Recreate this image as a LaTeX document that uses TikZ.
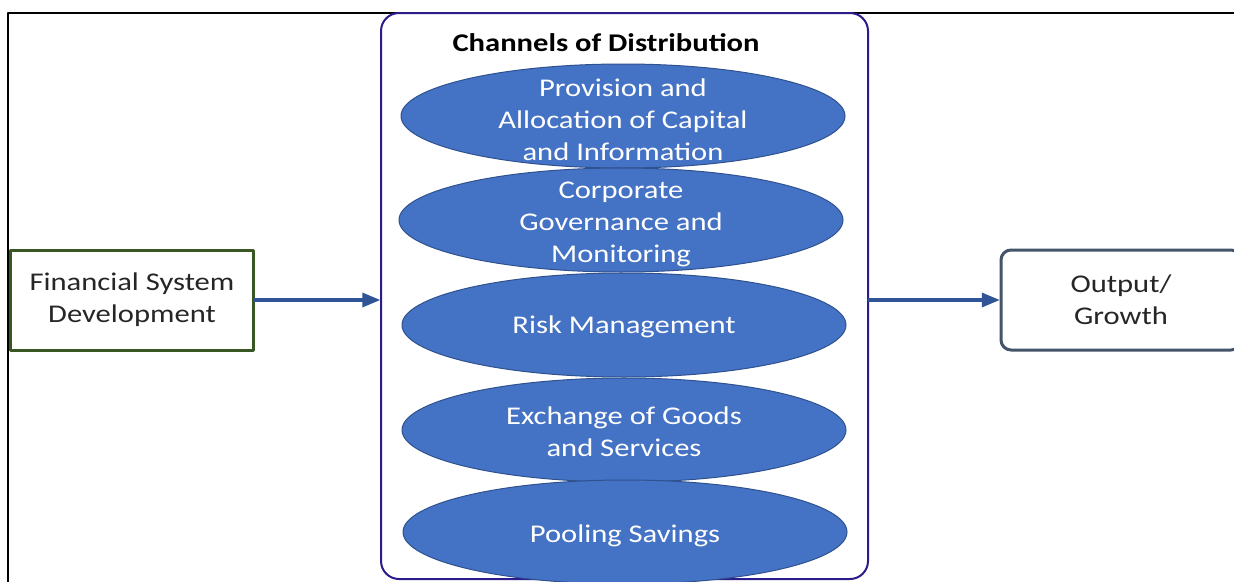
\documentclass[tikz,border=0pt]{standalone}
\usepackage{fontspec}
\setmainfont{Carlito}[FakeStretch=1.2]
\usepackage{tikz}
\usetikzlibrary{arrows}
\usetikzlibrary{shapes.geometric}
\definecolor{chanblue}{RGB}{68,114,196}
\definecolor{chanedge}{RGB}{47,82,143}
\definecolor{flowblue}{RGB}{47,85,151}
\definecolor{boxpurple}{RGB}{43,28,140}
\definecolor{boxgreen}{RGB}{56,87,35}
\definecolor{boxslate}{RGB}{68,84,106}

\begin{document}
\begin{tikzpicture}[line cap=round,line join=round,>=triangle 45,x=1pt,y=-1pt,
  every node/.style={font=\fontsize{25.5}{32}\selectfont,text=black!85},
  chan/.style={ellipse,draw=chanedge,line width=1pt,fill=chanblue,minimum width=444pt,minimum height=104pt,inner sep=0pt},
  chantext/.style={text=white,align=center},
  flow/.style={->,draw=flowblue,line width=3.2pt}]
\useasboundingbox (0,0) rectangle (1234,581);
\clip (0,0) rectangle (1234,581);
\fill[white] (0,0) rectangle (1234,581);
\draw [line width=2pt] (8,585)--(8,13)--(1240,13);
%\draw (381,13) rectangle (868,579);
\node[draw=boxpurple,line width=2pt,rounded corners=18pt,minimum width=487pt,minimum height=566pt] (chan) at (624.5,296) {};
\node[font=\fontsize{25.5}{32}\selectfont\bfseries,text=black] (title) at (606,43) {Channels of Distribution};
\node[chan] (e1) at (623,116) {};
\node[chan] (e2) at (621,220) {};
\node[chan] (e3) at (624,325) {};
\node[chan] (e4) at (624,430) {};
\node[chan] (e5) at (625,532) {};
\node[chantext] (t1) at (623,120) {Provision and\\Allocation of Capital\\and Information};
\node[chantext] (t2) at (621,224) {Corporate\\Governance and\\Monitoring};
\node[chantext] (t3) at (624,327) {Risk Management};
\node[chantext] (t4) at (624,432) {Exchange of Goods\\and Services};
\node[chantext] (t5) at (625,536) {Pooling Savings};
\node[draw=boxgreen,line width=3pt,minimum width=243pt,minimum height=100pt,align=center] (fsd) at (132,300) {Financial System\\Development};
\node[draw=boxslate,line width=3pt,rounded corners=10pt,minimum width=240pt,minimum height=100pt,align=center] (out) at (1121,300) {Output/\\Growth};
\draw[flow] (fsd.east) -- (fsd.east -| chan.west);
\draw[flow] (chan.east |- out.west) -- (out.west);
\end{tikzpicture}
\end{document}
